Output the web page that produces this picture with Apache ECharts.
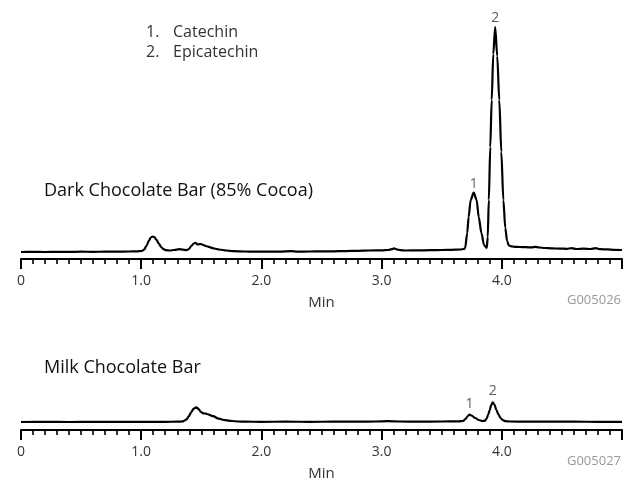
<!DOCTYPE html>
<html>
<head>
<meta charset="utf-8">
<script src="https://cdn.jsdelivr.net/npm/echarts@6/dist/echarts.min.js"></script>
<style>html,body{margin:0;padding:0;background:#fff}#c{width:625px;height:483px}</style>
</head>
<body>
<div id="c"></div>
<script>
// Retention time (min), detector signal (arbitrary units)
const darkTrace = [[0.00,0.0],[0.10,0.1],[0.20,0.0],[0.30,0.2],[0.40,0.1],[0.50,0.3],[0.60,0.2],[0.70,0.3],[0.80,0.4],[0.90,0.5],[0.96,0.6],[1.005,1.0],[1.025,2.5],[1.045,6.5],[1.065,11.5],[1.08,14.5],[1.095,15.5],[1.11,14.8],[1.126,12.5],[1.146,8.5],[1.166,5.0],[1.186,2.8],[1.206,1.8],[1.236,1.5],[1.276,2.0],[1.316,2.8],[1.347,2.4],[1.377,1.8],[1.397,3.0],[1.417,6.0],[1.437,8.5],[1.452,9.2],[1.467,7.5],[1.482,7.8],[1.497,8.0],[1.517,7.0],[1.538,6.0],[1.568,4.8],[1.608,3.5],[1.648,2.5],[1.708,1.5],[1.769,0.8],[1.86,0.5],[1.95,0.3],[2.05,0.4],[2.15,0.3],[2.25,0.9],[2.30,0.4],[2.40,0.5],[2.50,0.6],[2.60,0.7],[2.70,0.9],[2.80,1.2],[2.90,1.5],[3.00,1.6],[3.055,2.0],[3.085,2.8],[3.105,3.6],[3.125,2.6],[3.155,1.8],[3.20,1.5],[3.30,1.6],[3.40,1.8],[3.50,2.0],[3.58,2.2],[3.655,2.5],[3.685,3.0],[3.695,4.0],[3.712,18.7],[3.724,35],[3.741,52],[3.766,59.3],[3.791,52],[3.808,35],[3.831,18.7],[3.852,7],[3.875,4.0],[3.883,15],[3.892,52],[3.904,105],[3.916,152],[3.929,198],[3.945,225],[3.962,196],[3.979,152],[3.996,100],[4.013,52],[4.029,24],[4.044,11],[4.059,6.5],[4.085,5.5],[4.11,5.2],[4.15,5.0],[4.20,4.8],[4.25,4.6],[4.28,5.2],[4.31,4.5],[4.36,4.0],[4.42,3.6],[4.48,3.4],[4.54,3.2],[4.58,3.8],[4.62,3.0],[4.68,3.4],[4.74,3.0],[4.78,3.8],[4.82,2.8],[4.88,2.6],[4.94,2.2],[5.00,2.0]];
const milkTrace = [[0,0],[0.2,0.1],[0.4,0],[0.6,0.2],[0.8,0.1],[1.0,0.1],[1.2,0.2],[1.3,0.3],[1.347,0.6],[1.377,2.5],[1.397,6.0],[1.417,10],[1.437,13.5],[1.460,14.6],[1.477,13.0],[1.497,10.0],[1.517,8.6],[1.538,8.4],[1.563,7.3],[1.598,5.8],[1.645,3.3],[1.698,1.8],[1.755,1.0],[1.809,0.5],[1.869,0.3],[2.0,0.2],[2.2,0.3],[2.4,0.2],[2.6,0.3],[2.8,0.4],[2.95,0.5],[3.05,0.8],[3.15,0.5],[3.3,0.4],[3.5,0.5],[3.638,0.6],[3.678,1.0],[3.698,3.0],[3.718,6.0],[3.732,7.3],[3.748,6.5],[3.779,4.0],[3.809,2.0],[3.839,1.0],[3.859,1.2],[3.874,3.5],[3.887,7.5],[3.898,11.5],[3.912,17.0],[3.925,19.6],[3.939,17.5],[3.955,12.0],[3.973,7.3],[3.990,4.0],[4.010,1.8],[4.030,0.8],[4.07,0.5],[4.2,0.4],[4.4,0.3],[4.6,0.3],[4.8,0.2],[5.0,0.2]];
const darkPeaks = [[3.766,59.3,'1'],[3.945,225,'2']];
const milkPeaks = [[3.732,7.3,'1'],[3.925,19.6,'2']];
const tickLabels = ['0','1.0','2.0','3.0','4.0'];
const compounds = ['Catechin','Epicatechin'];
const sampleNames = ['Dark Chocolate Bar (85% Cocoa)','Milk Chocolate Bar'];
const figureCodes = ['G005026','G005027'];

const FONT = 'Open Sans';
const chart = echarts.init(document.getElementById('c'), null, {renderer:'canvas'});

function xAxisCfg(gi){
  return {
    type:'value', gridIndex:gi, min:0, max:5, interval:1,
    name:'Min', nameLocation:'middle', nameGap:36,
    nameTextStyle:{fontFamily:FONT,fontSize:15,color:'#333'},
    axisLine:{show:true,onZero:false,lineStyle:{color:'#000',width:2}},
    axisTick:{show:true,length:10,lineStyle:{color:'#000',width:2}},
    minorTick:{show:true,splitNumber:10,length:5,lineStyle:{color:'#000',width:1.6}},
    splitLine:{show:false}, minorSplitLine:{show:false},
    axisLabel:{margin:15,fontFamily:FONT,fontSize:14,color:'#333',
      formatter:v=>{const i=Math.round(v);return (Math.abs(v-i)<1e-6 && i<tickLabels.length)?tickLabels[i]:'';}}
  };
}
function yAxisCfg(gi,min,max){
  return {type:'value',gridIndex:gi,min:min,max:max,show:false,splitLine:{show:false}};
}
function traceSeries(data,xi){
  return {type:'line',xAxisIndex:xi,yAxisIndex:xi,data:data,showSymbol:false,symbol:'none',
    smooth:0.3,smoothMonotone:'x',lineStyle:{color:'#000',width:2.2},silent:true,animation:false,z:3};
}
function peakSeries(data,xi,dist){
  return {type:'scatter',xAxisIndex:xi,yAxisIndex:xi,data:data,symbolSize:0,silent:true,animation:false,
    label:{show:true,position:'top',distance:dist,formatter:p=>p.value[2],
      fontFamily:FONT,fontSize:14,color:'#333'}};
}

chart.setOption({
  backgroundColor:'#fff',
  animation:false,
  title:[
    {text:'{n|1.}{t|'+compounds[0]+'}\n{n|2.}{t|'+compounds[1]+'}',left:146,top:22,padding:0,
      textStyle:{fontWeight:'normal',rich:{n:{width:27,fontFamily:FONT,fontSize:16,fontWeight:'normal',color:'#333',lineHeight:20},
                       t:{fontFamily:FONT,fontSize:16,fontWeight:'normal',color:'#333',lineHeight:20}}}},
    {text:sampleNames[0],left:44,top:182,padding:0,textStyle:{fontFamily:FONT,fontSize:18,fontWeight:'normal',color:'#111'}},
    {text:sampleNames[1],left:44,top:359,padding:0,textStyle:{fontFamily:FONT,fontSize:18,fontWeight:'normal',color:'#111'}},
    {text:figureCodes[0],right:4,top:294,padding:0,textStyle:{fontFamily:FONT,fontSize:13,fontWeight:'normal',color:'#999'}},
    {text:figureCodes[1],right:4,top:455,padding:0,textStyle:{fontFamily:FONT,fontSize:13,fontWeight:'normal',color:'#999'}}
  ],
  grid:[
    {left:21,right:-1,top:27,bottom:224,containLabel:false},
    {left:21,right:-1,top:390,bottom:53,containLabel:false}
  ],
  xAxis:[xAxisCfg(0),xAxisCfg(1)],
  yAxis:[yAxisCfg(0,-7,225),yAxisCfg(1,-8,32)],
  series:[traceSeries(darkTrace,0),traceSeries(milkTrace,1),peakSeries(darkPeaks,0,2),peakSeries(milkPeaks,1,4)]
});
</script>
</body>
</html>
